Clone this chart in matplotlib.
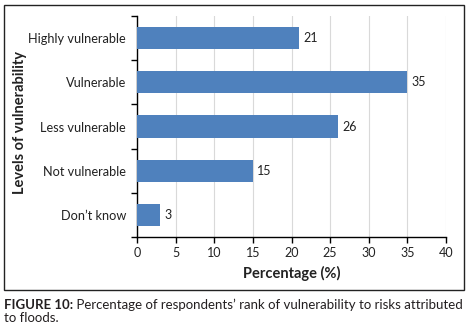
import matplotlib
matplotlib.use("Agg")
import matplotlib.pyplot as plt
from matplotlib.patches import Rectangle
import numpy as np

categories = ["Highly vulnerable", "Vulnerable", "Less vulnerable", "Not vulnerable", "Don\u2019t know"]
values = [21, 35, 26, 15, 3]
xticks = [0, 5, 10, 15, 20, 25, 30, 35, 40]

plt.rcParams['font.family'] = ['Lato', 'DejaVu Sans']
W, H = 468, 331
fig = plt.figure(figsize=(W/100, H/100), dpi=100)
ax = fig.add_axes([137/W, 1-237/H, (446-137)/W, (237-16)/H])

pos = np.arange(len(categories))
ax.barh(pos, values, height=0.5, color='#4F81BD', zorder=3)
for p, v in zip(pos, values):
    ax.annotate(str(v), (v, p), xytext=(3, 0), textcoords='offset points',
                va='center', ha='left', fontsize=9, color='#222222')

ax.set_ylim(len(categories)-0.5, -0.5)
ax.set_xlim(0, 40)
ax.set_xticks(xticks)
ax.set_xticklabels([str(t) for t in xticks], fontsize=9, color='#222222')
ax.set_yticks(np.arange(-0.5, len(categories)), minor=False)
ax.set_yticklabels([])
ax.set_yticks(pos, minor=True)
ax.set_yticklabels(categories, minor=True, fontsize=9.2, color='#222222')
ax.tick_params(axis='y', which='minor', length=0, pad=8)
ax.tick_params(axis='y', which='major', length=4, direction='out', width=1)
ax.tick_params(axis='x', length=4, direction='out', width=1, pad=3)
ax.grid(axis='x', color='#D9D9D9', linewidth=0.8, zorder=0)
for s in ['top', 'right']:
    ax.spines[s].set_visible(False)
for s in ['left', 'bottom']:
    ax.spines[s].set_color('black')
    ax.spines[s].set_linewidth(1)

ax.set_xlabel("Percentage (%)", fontsize=10.5, fontweight='bold', labelpad=5, color='#222222')
fig.text(20/W, 1-122/H, "Levels of vulnerability", rotation=90, fontsize=10.5,
         fontweight='bold', ha='center', va='center', color='#222222')

fig.patches.append(Rectangle((3.5/W, 1-290/H), (464-3.5)/W, (290-5)/H,
                             transform=fig.transFigure, fill=False,
                             edgecolor='#222222', linewidth=1))

t1 = fig.text(4/W, 1-309/H, "FIGURE 10:", fontsize=9.5, fontweight='bold',
              color='#231F20', ha='left', va='baseline')
ax.annotate(" Percentage of respondents\u2019 rank of vulnerability to risks attributed",
            xy=(1, 0), xycoords=t1, xytext=(0, 0), textcoords='offset points',
            fontsize=9.5, color='#231F20', ha='left', va='bottom',
            annotation_clip=False)
fig.text(4/W, 1-322/H, "to floods.", fontsize=9.5, color='#231F20', ha='left', va='baseline')

fig.savefig("out.png", dpi=100)
